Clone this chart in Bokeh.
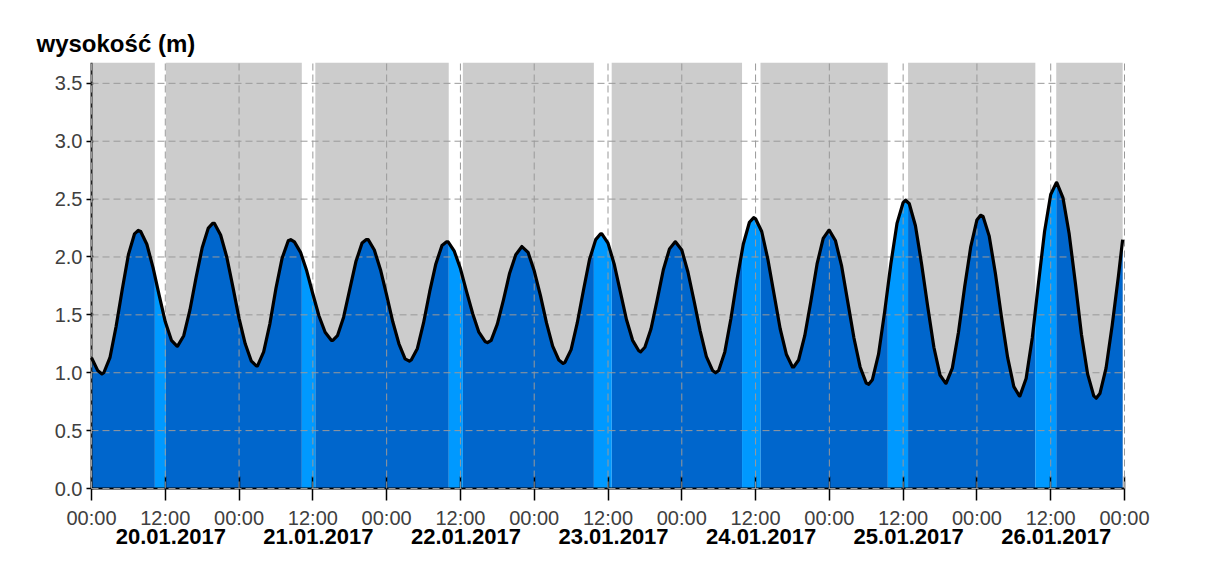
import numpy as np
from bokeh.plotting import figure
from bokeh.models import Range1d, FixedTicker
from bokeh.embed import file_html
from bokeh.resources import INLINE
from bokeh.core.properties import value

# ---------------- data ----------------
# hourly readings (hours since 20.01.2017 00:00)
hourly_hours = list(range(168)) + [167.7]
hourly_level = [1.13, 1.02, 1.00, 1.13, 1.40, 1.72, 2.02, 2.20, 2.22, 2.11, 1.91, 1.67,
                1.44, 1.28, 1.23, 1.32, 1.54, 1.82, 2.08, 2.25, 2.29, 2.19, 2.00, 1.74,
                1.47, 1.25, 1.10, 1.06, 1.18, 1.42, 1.73, 1.99, 2.14, 2.13, 2.04, 1.88,
                1.68, 1.49, 1.35, 1.28, 1.32, 1.48, 1.72, 1.96, 2.12, 2.15, 2.06, 1.89,
                1.67, 1.44, 1.25, 1.12, 1.11, 1.21, 1.43, 1.70, 1.94, 2.10, 2.13, 2.05,
                1.90, 1.70, 1.51, 1.35, 1.27, 1.28, 1.42, 1.63, 1.86, 2.02, 2.09, 2.04,
                1.88, 1.67, 1.43, 1.23, 1.11, 1.09, 1.20, 1.43, 1.71, 1.98, 2.15, 2.20,
                2.12, 1.94, 1.70, 1.46, 1.28, 1.19, 1.22, 1.38, 1.63, 1.89, 2.07, 2.13,
                2.06, 1.87, 1.62, 1.36, 1.14, 1.02, 1.02, 1.18, 1.47, 1.81, 2.11, 2.30,
                2.33, 2.22, 1.98, 1.68, 1.38, 1.16, 1.05, 1.11, 1.32, 1.62, 1.94, 2.16,
                2.23, 2.14, 1.92, 1.61, 1.30, 1.05, 0.91, 0.94, 1.16, 1.53, 1.94, 2.29,
                2.47, 2.46, 2.27, 1.94, 1.57, 1.22, 0.98, 0.91, 1.04, 1.35, 1.74, 2.09,
                2.32, 2.35, 2.18, 1.86, 1.48, 1.13, 0.88, 0.80, 0.95, 1.30, 1.77, 2.22,
                2.54, 2.64, 2.51, 2.20, 1.78, 1.33, 0.99, 0.80, 0.82, 1.04, 1.41, 1.83,
                2.15]

# high / low water readings (time in hours, height in m)
extreme_hours = [1.7, 7.6, 13.9, 19.7, 26.8, 32.4, 39.25, 44.7, 51.7, 57.7, 64.4,
                 76.7, 82.8, 89.3, 94.9, 101.5, 107.7, 114.2, 119.9, 126.4, 132.4,
                 138.9, 144.6, 150.9, 156.9, 163.4]
extreme_level = [0.99, 2.23, 1.23, 2.29, 1.06, 2.15, 1.28, 2.15, 1.10, 2.13, 1.26,
                 1.08, 2.20, 1.18, 2.13, 1.00, 2.34, 1.05, 2.23, 0.90, 2.49,
                 0.91, 2.36, 0.80, 2.64, 0.78]

day_start = [10.3, 34.2, 58.1, 81.7, 105.8, 129.5, 153.5]
day_end = [12.1, 36.4, 60.4, 84.6, 108.8, 132.8, 156.9]

dates = ["20.01.2017", "21.01.2017", "22.01.2017", "23.01.2017",
         "24.01.2017", "25.01.2017", "26.01.2017"]

x_ticks = [0, 12, 24, 36, 48, 60, 72, 84, 96, 108, 120, 132, 144, 156, 168]
x_tick_labels = ["00:00", "12:00", "00:00", "12:00", "00:00", "12:00", "00:00",
                 "12:00", "00:00", "12:00", "00:00", "12:00", "00:00", "12:00",
                 "00:00"]
y_ticks = [0.0, 0.5, 1.0, 1.5, 2.0, 2.5, 3.0, 3.5]
y_tick_labels = ["0.0", "0.5", "1.0", "1.5", "2.0", "2.5", "3.0", "3.5"]

title_text = "wysokość (m)"

# ---------------- style / layout ----------------
W, H = 1203, 550
TOP = 62                      # title band above the drawing area
PLOT_LEFT_PX, PLOT_RIGHT_PX = 91, 1124   # where hour 0 and hour 168 sit
AXIS_Y_PX = 488               # where height 0 sits
X_END = 168
Y_MAX = 3.68
PX_PER_H = (PLOT_RIGHT_PX - PLOT_LEFT_PX) / X_END
PX_PER_M = (AXIS_Y_PX - TOP) / Y_MAX
X_MIN = -PLOT_LEFT_PX / PX_PER_H
X_MAX = X_END + (W - PLOT_RIGHT_PX) / PX_PER_H
Y_MIN = -(H - AXIS_Y_PX) / PX_PER_M
DATE_Y = -48 / PX_PER_M       # centre of the date row, 48 px below the axis
DATE_OFFSET_H = 12.9

GRAY = "#cccccc"
DARK = "#0066cc"
LIGHT = "#0099ff"
GRID = "#999999"
FONT = "Liberation Sans"

p = figure(width=W, height=H, output_backend="svg", toolbar_location=None,
           x_range=Range1d(X_MIN, X_MAX), y_range=Range1d(Y_MIN, Y_MAX),
           min_border_left=0, min_border_right=0,
           min_border_top=TOP, min_border_bottom=0)
p.outline_line_color = None
p.background_fill_color = "white"
p.border_fill_color = "white"
p.xgrid.visible = False
p.ygrid.visible = False

# merge hourly and extreme readings in time order
pairs = sorted(zip(hourly_hours + extreme_hours, hourly_level + extreme_level))
t = np.array([a for a, b in pairs], dtype=float)
v = np.array([b for a, b in pairs], dtype=float)
t_end = t[-1]

nights = []
prev = 0.0
for a, b in zip(day_start, day_end):
    nights.append((prev, a))
    prev = b
nights.append((prev, t_end))
days = list(zip(day_start, day_end))

# background columns (gray at night, white in day stripes)
p.quad(left=[a for a, b in nights], right=[b for a, b in nights],
       bottom=0, top=Y_MAX, fill_color=GRAY, line_color=None)


def seg_area(a, b, color):
    xs = [a] + [h for h in t if a < h < b] + [b]
    ys = np.interp(xs, t, v)
    p.varea(x=xs, y1=0, y2=ys, fill_color=color)


for a, b in nights:
    seg_area(a, b, DARK)
for a, b in days:
    seg_area(a, b, LIGHT)

# dashed grid limited to the data area
hg = p.segment(x0=0, x1=X_END, y0=y_ticks, y1=y_ticks, line_color=GRID,
               line_width=1, line_dash="7 4")
vg = p.segment(x0=x_ticks, x1=x_ticks, y0=0, y1=Y_MAX, line_color=GRID,
               line_width=1, line_dash="7 4")
hg.level = "annotation"
vg.level = "annotation"

line = p.line(t, v, line_color="black", line_width=3.2, line_join="round")
line.level = "overlay"

# x axis drawn at height 0
xa = p.xaxis[0]
xa.fixed_location = 0
xa.bounds = (0, X_END)
xa.ticker = FixedTicker(ticks=x_ticks)
xa.major_label_overrides = {k: s for k, s in zip(x_ticks, x_tick_labels)}
xa.major_tick_in = 12
xa.major_tick_out = 12
xa.minor_tick_line_color = None
xa.axis_line_color = "black"
xa.axis_line_width = 2
xa.major_tick_line_color = "black"
xa.major_tick_line_width = 1.5
xa.major_label_standoff = 6
xa.major_label_text_font = FONT
xa.major_label_text_font_size = "20px"
xa.major_label_text_color = "#404040"

# y axis drawn at hour 0
ya = p.yaxis[0]
ya.fixed_location = 0
ya.bounds = (0, Y_MAX)
ya.ticker = FixedTicker(ticks=y_ticks)
ya.major_label_overrides = {k: s for k, s in zip(y_ticks, y_tick_labels)}
ya.major_tick_in = 2
ya.major_tick_out = 5
ya.minor_tick_line_color = None
ya.axis_line_color = "#222222"
ya.axis_line_width = 2
ya.major_tick_line_color = "black"
ya.major_tick_line_width = 1.5
ya.major_label_standoff = 4
ya.major_label_text_font = FONT
ya.major_label_text_font_size = "20px"
ya.major_label_text_color = "#404040"

# date row under the time labels
p.text(x=[24 * i + DATE_OFFSET_H for i in range(len(dates))],
       y=[DATE_Y] * len(dates), text=dates,
       text_align="center", text_baseline="middle",
       text_font=value(FONT), text_font_size="22px",
       text_font_style="bold", text_color="black")

# title
p.title.text = title_text
p.title.align = "left"
p.title.offset = 36
p.title.standoff = 12
p.title.text_font = FONT
p.title.text_font_size = "24px"
p.title.text_font_style = "bold"
p.title.text_color = "black"

open("out.html", "w").write(file_html(p, INLINE))
